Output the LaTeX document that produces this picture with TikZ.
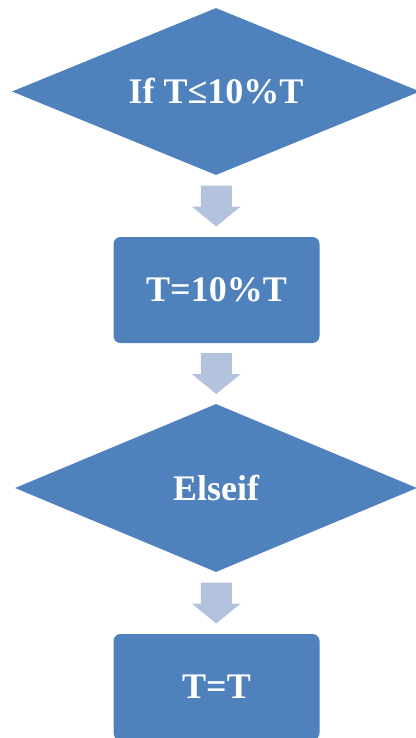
\documentclass[tikz,border=0pt]{standalone}
\usepackage{fontspec}
\setmainfont{Liberation Serif}
\usetikzlibrary{shapes.geometric,calc}
\definecolor{boxblue}{RGB}{79,129,189}
\definecolor{arrowblue}{RGB}{179,195,222}
\tikzset{
  lbl/.style={text=white,font=\fontsize{36}{40}\selectfont\bfseries,inner sep=0pt},
  decision/.style={lbl,shape=diamond,aspect=2.4,fill=boxblue,draw=none},
  process/.style={lbl,shape=rectangle,rounded corners=7pt,fill=boxblue,draw=none},
  barrow/.pic={\fill[arrowblue] (-15.5,-20.5) -- (15.5,-20.5) -- (15.5,0.5) -- (24.5,0.5) -- (0,20.5) -- (-24.5,0.5) -- (-15.5,0.5) -- cycle;}
}
\begin{document}
\begin{tikzpicture}[x=1pt,y=-1pt]
\useasboundingbox (0,0) rectangle (415,738);
\node[decision,minimum width=408pt,minimum height=167pt] (d1) at (216,91.5) {If T≤10\%T};
\node[process,minimum width=206pt,minimum height=106pt] (r1) at (216.5,290) {T=10\%T};
\node[decision,minimum width=402pt,minimum height=168pt] (d2) at (216,488) {Elseif};
\node[process,minimum width=206pt,minimum height=106pt] (r2) at (216.5,687) {T=T};
\coordinate (m1) at ($(d1.south)!0.5!(r1.north)$);
\coordinate (m2) at ($(r1.south)!0.5!(d2.north)$);
\coordinate (m3) at ($(d2.south)!0.5!(r2.north)$);
\pic at (m1) {barrow};
\pic at (m2) {barrow};
\pic at (m3) {barrow};
\end{tikzpicture}
\end{document}
